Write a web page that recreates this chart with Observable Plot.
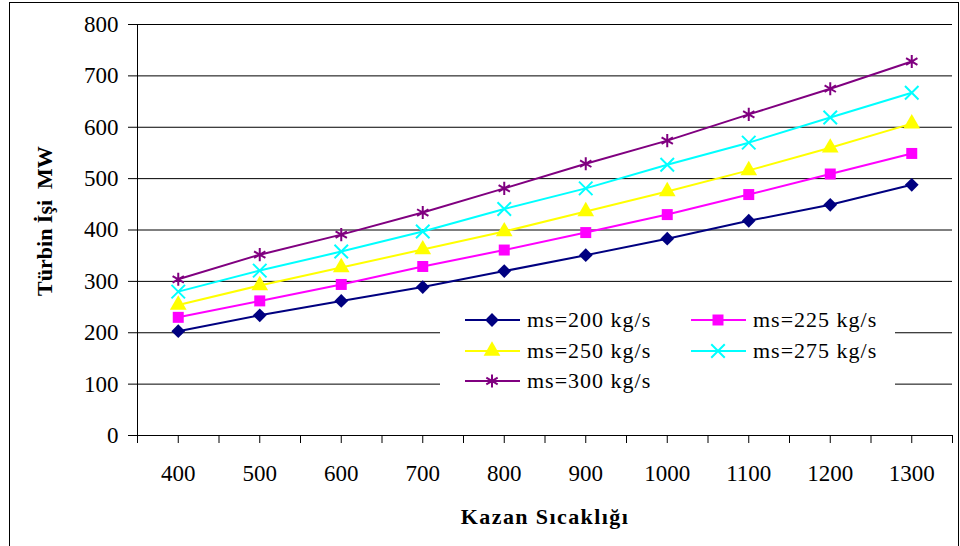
<!DOCTYPE html>
<html>
<head>
<meta charset="utf-8">
<script src="https://cdn.jsdelivr.net/npm/d3@7"></script>
<script src="https://cdn.jsdelivr.net/npm/@observablehq/plot@0.6"></script>
<style>
  html, body { margin: 0; padding: 0; background: #fff; overflow: hidden; }
  #wrap { position: relative; width: 960px; height: 546px; font-family: "Liberation Serif", "Times New Roman", serif; }
  #frame { position: absolute; left: 9px; top: 2px; width: 948px; height: 600px; border: 1px solid #000; pointer-events: none; }
  .title { position: absolute; font-weight: bold; color: #000; white-space: nowrap; }
  #xtitle { left: 0; width: 1090px; top: 504px; text-align: center; font-size: 22px; letter-spacing: 1.4px; }
  #ytitle { left: 45px; top: 221px; font-size: 22px; transform: translate(-50%, -50%) rotate(-90deg); }
  #legend { position: absolute; left: 440px; top: 305px; width: 455px; height: 87px; background: #fff; }
  .item { position: absolute; height: 30px; display: flex; align-items: center; font-size: 22px; letter-spacing: 1px; color: #000; }
  .item svg { margin-right: 6px; }
</style>
</head>
<body>
<div id="wrap">
  <div id="chart"></div>
  <div id="legend"></div>
  <div class="title" id="xtitle">Kazan Sıcaklığı</div>
  <div class="title" id="ytitle">Türbin İşi&nbsp; MW</div>
  <div id="frame"></div>
</div>
<script>
// Data
const temperatures = [400, 500, 600, 700, 800, 900, 1000, 1100, 1200, 1300];
const seriesNames = ["ms=200 kg/s", "ms=225 kg/s", "ms=250 kg/s", "ms=275 kg/s", "ms=300 kg/s"];
const ms200 = [203, 234, 262, 289, 320, 351, 383, 418, 449, 488];
const ms225 = [230, 262, 294, 329, 361, 395, 430, 469, 509, 549];
const ms250 = [254, 292, 327, 362, 397, 436, 475, 516, 560, 607];
const ms275 = [280, 321, 358, 397, 441, 481, 527, 570, 619, 667];
const ms300 = [304, 352, 391, 434, 481, 529, 574, 625, 675, 728];
const yTicks = [0, 100, 200, 300, 400, 500, 600, 700, 800];
const xTickLabels = [400, 500, 600, 700, 800, 900, 1000, 1100, 1200, 1300];

const colors = ["#000080", "#FF00FF", "#FFFF00", "#00FFFF", "#800080"];
const symbols = ["diamond2", "square", "triangle", "times", "asterisk"];
const filled = ["ms=200 kg/s", "ms=225 kg/s", "ms=250 kg/s"];

const allSeries = [ms200, ms225, ms250, ms275, ms300];
const data = [];
seriesNames.forEach((s, i) => {
  temperatures.forEach((t, j) => data.push({series: s, temp: t, value: allSeries[i][j]}));
});

const xBoundaries = d3.range(350, 1351, 50);
const font = "Liberation Serif";

const chart = Plot.plot({
  width: 960,
  height: 546,
  marginLeft: 137,
  marginRight: 8,
  marginTop: 24,
  marginBottom: 111,
  style: {fontFamily: font, background: "transparent", color: "#000"},
  x: {domain: [350, 1350], axis: null},
  y: {domain: [0, 800], axis: null},
  color: {domain: seriesNames, range: colors},
  symbol: {domain: seriesNames, range: symbols},
  marks: [
    Plot.ruleY(yTicks.filter(d => d > 0), {stroke: "#000", strokeWidth: 1}),
    Plot.ruleY([0], {stroke: "#000", strokeWidth: 1}),
    Plot.ruleX([350], {y1: 0, y2: 800, stroke: "#000", strokeWidth: 1}),
    Plot.axisY({ticks: yTicks, tickSize: 9, tickPadding: 10, fontSize: 23, fontFamily: font, label: null, stroke: "#000"}),
    Plot.axisX({ticks: xBoundaries, tickSize: 8, tickFormat: () => "", label: null, stroke: "#000"}),
    Plot.axisX({ticks: xTickLabels, tickSize: 0, tickPadding: 29, fontSize: 23, fontFamily: font, label: null, tickFormat: d => String(d)}),
    Plot.line(data, {x: "temp", y: "value", z: "series", stroke: "series", strokeWidth: 2}),
    Plot.dot(data.filter(d => filled.includes(d.series)), {x: "temp", y: "value", symbol: "series", fill: "series", r: 6.2}),
    Plot.dot(data.filter(d => !filled.includes(d.series)), {x: "temp", y: "value", symbol: "series", stroke: "series", strokeWidth: 2, r: 6.2})
  ]
});
document.getElementById("chart").appendChild(chart);

// Legend
const legendPos = [[25, 0], [251, 0], [25, 31], [251, 31], [25, 61]];
const legend = d3.select("#legend");
const symMap = {diamond2: d3.symbolDiamond2, square: d3.symbolSquare, triangle: d3.symbolTriangle, times: d3.symbolTimes, asterisk: d3.symbolAsterisk};
seriesNames.forEach((s, i) => {
  const item = legend.append("div").attr("class", "item")
    .style("left", legendPos[i][0] + "px").style("top", legendPos[i][1] + "px");
  const svg = item.append("svg").attr("width", 56).attr("height", 30);
  svg.append("line").attr("x1", 0).attr("x2", 55).attr("y1", 15).attr("y2", 15)
    .attr("stroke", colors[i]).attr("stroke-width", 2);
  const isFilled = filled.includes(s);
  svg.append("path").attr("transform", "translate(27,15)")
    .attr("d", d3.symbol(symMap[symbols[i]], Math.PI * 6.2 * 6.2)())
    .attr("fill", isFilled ? colors[i] : "none")
    .attr("stroke", isFilled ? "none" : colors[i])
    .attr("stroke-width", 2);
  item.append("span").text(s);
});
</script>
</body>
</html>
